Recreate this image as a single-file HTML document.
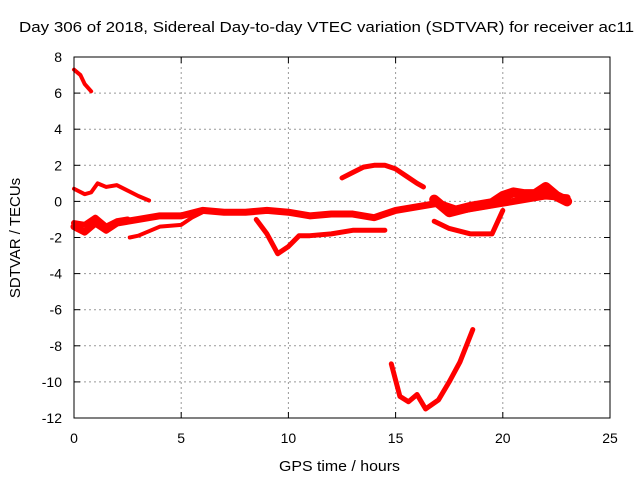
<!DOCTYPE html>
<html><head><meta charset="utf-8"><style>
body{margin:0;background:#fff;}
svg{display:block;font-family:"Liberation Sans",sans-serif;}
</style></head><body>
<svg id="chart" width="640" height="480">
<text x="19" y="32" font-size="15" textLength="615" lengthAdjust="spacingAndGlyphs">Day 306 of 2018, Sidereal Day-to-day VTEC variation (SDTVAR) for receiver ac11</text>
<text x="279" y="471" font-size="15" textLength="121" lengthAdjust="spacingAndGlyphs">GPS time / hours</text>
<text x="20" y="238" font-size="15" text-anchor="middle" transform="rotate(-90 20 238)">SDTVAR / TECUs</text>
<g id="grid"></g><g id="ticks"></g><g id="series"></g>
<rect x="74" y="57" width="536" height="361" fill="none" stroke="#000"/>
</svg>
<script>
const xTicks=[0,5,10,15,20,25];
const yTicks=[8,6,4,2,0,-2,-4,-6,-8,-10,-12];
const trackA=[[0,7.3],[0.3,7.0],[0.5,6.5],[0.8,6.1]];
const trackB=[[0,0.7],[0.5,0.4],[0.8,0.5],[1.1,1.0],[1.5,0.8],[2,0.9],[2.5,0.6],[3,0.3],[3.5,0.05]];
const trackC=[[0,-1.4],[0.5,-1.7],[1,-1.2],[1.5,-1.6],[2,-1.2],[3,-1.0],[4,-0.8],[5,-0.8],[6,-0.5],[7,-0.6],[8,-0.6],[9,-0.5],[10,-0.6],[11,-0.8],[12,-0.7],[13,-0.7],[14,-0.9],[15,-0.5],[16,-0.3],[17,-0.1],[17.5,-0.3],[18,-0.5],[19,-0.3],[20,-0.1],[21,0.1],[22,0.3],[23,0.2]];
const trackD=[[0,-1.2],[0.5,-1.3],[1,-0.9],[1.5,-1.4],[2,-1.1],[2.5,-1.0]];
const trackE=[[2.6,-2.0],[3,-1.9],[4,-1.4],[5,-1.3],[5.5,-0.9],[6,-0.6]];
const trackF=[[8.5,-1.0],[9,-1.8],[9.5,-2.9],[10,-2.5],[10.5,-1.9],[11,-1.9],[12,-1.8],[13,-1.6],[14,-1.6],[14.5,-1.6]];
const trackG=[[12.5,1.3],[13,1.6],[13.5,1.9],[14,2.0],[14.5,2.0],[15,1.8],[15.5,1.4],[16,1.0],[16.3,0.8]];
const trackH=[[16.8,-1.1],[17.5,-1.5],[18.5,-1.8],[19.5,-1.8],[20,-0.5]];
const trackI=[[16.8,0.1],[17.5,-0.6],[18.5,-0.3],[19.5,-0.1],[20,0.3],[20.5,0.5],[21,0.4],[21.5,0.4],[22,0.8],[22.5,0.3],[23,0.0]];
const trackJ=[[14.8,-9],[15.2,-10.8],[15.6,-11.1],[16,-10.7],[16.4,-11.5],[17,-11],[17.5,-10],[18,-8.9],[18.6,-7.1]];
const tracks=[trackA,trackB,trackC,trackD,trackE,trackF,trackG,trackH,trackI,trackJ];
const widths=[4,4,7,6,4,5,5,5,10,5];
const X=v=>74+v*536/25, Y=v=>57+(8-v)*361/20;
const NS='http://www.w3.org/2000/svg';
const grid=document.getElementById('grid'),ticks=document.getElementById('ticks'),ser=document.getElementById('series');
function mk(tag,at,p){const e=document.createElementNS(NS,tag);for(const k in at)e.setAttribute(k,at[k]);p.appendChild(e);return e;}
xTicks.forEach(t=>{const x=X(t);
 if(t>0&&t<25){const g=mk('line',{x1:x,x2:x,y1:57,y2:418,stroke:'#999','stroke-dasharray':'2,3'},grid);
 
 }
 mk('line',{x1:x,x2:x,y1:418,y2:412,stroke:'#000'},ticks);mk('line',{x1:x,x2:x,y1:57,y2:63,stroke:'#000'},ticks);
 const l=mk('text',{x:x,y:443,'font-size':14,'text-anchor':'middle'},ticks);l.textContent=t;
 
 });
yTicks.forEach(t=>{const y=Y(t);
 if(t<8&&t>-12){const g=mk('line',{x1:74,x2:610,y1:y,y2:y,stroke:'#999','stroke-dasharray':'2,3'},grid);
 
 }
 mk('line',{x1:74,x2:80,y1:y,y2:y,stroke:'#000'},ticks);mk('line',{x1:610,x2:604,y1:y,y2:y,stroke:'#000'},ticks);
 const l=mk('text',{x:62,y:y+5,'font-size':14,'text-anchor':'end'},ticks);l.textContent=t;
 
 });
tracks.forEach((tr,i)=>{const p=mk('polyline',{points:tr.map(d=>X(d[0])+','+Y(d[1])).join(' '),fill:'none',stroke:'#f00','stroke-width':widths[i],'stroke-linejoin':'round','stroke-linecap':'round'},ser);
 
 });
</script>
</body></html>
